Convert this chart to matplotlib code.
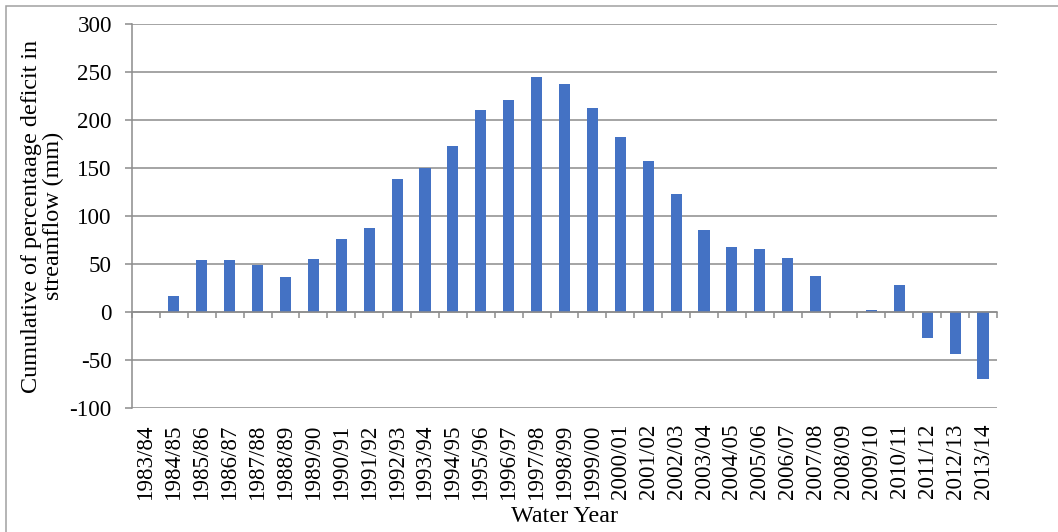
import matplotlib
matplotlib.use("Agg")
import matplotlib.pyplot as plt
from matplotlib.patches import Rectangle

plt.rcParams['font.family'] = ['Liberation Serif', 'DejaVu Serif']

water_years = ["1983/84", "1984/85", "1985/86", "1986/87", "1987/88", "1988/89",
               "1989/90", "1990/91", "1991/92", "1992/93", "1993/94", "1994/95",
               "1995/96", "1996/97", "1997/98", "1998/99", "1999/00", "2000/01",
               "2001/02", "2002/03", "2003/04", "2004/05", "2005/06", "2006/07",
               "2007/08", "2008/09", "2009/10", "2010/11", "2011/12", "2012/13",
               "2013/14"]
cum_deficit = [0, 17, 54, 54, 49, 36, 55, 76, 88, 139, 150, 173, 210, 221, 245,
               238, 213, 182, 157, 123, 85, 68, 66, 56, 38, 0, 2, 28, -27, -44, -70]
y_ticks = [-100, -50, 0, 50, 100, 150, 200, 250, 300]

W, H = 1058, 532
fig = plt.figure(figsize=(W / 100, H / 100), dpi=100)
fig.patch.set_facecolor('white')
ax = fig.add_axes([132 / W, (H - 408) / H, (997 - 132) / W, (408 - 24) / H])

grey = '#8c8c8c'
lw = 1.1
fs = 16.6
fs_lab = 17.4
x = list(range(len(water_years)))
ax.bar(x, cum_deficit, width=0.4, color='#4472C4', zorder=3)

ax.set_xlim(-0.5, len(water_years) - 0.5)
ax.set_ylim(-100, 300)
ax.set_yticks(y_ticks)
ax.set_yticklabels([str(v) for v in y_ticks], fontsize=fs)
ax.yaxis.grid(True, color=grey, linewidth=lw, zorder=0)
ax.set_axisbelow(True)

for s in ['top', 'right']:
    ax.spines[s].set_visible(False)
ax.spines['left'].set_color(grey)
ax.spines['left'].set_linewidth(lw)
ax.spines['bottom'].set_position(('data', 0))
ax.spines['bottom'].set_color(grey)
ax.spines['bottom'].set_linewidth(lw)
ax.spines['bottom'].set_zorder(4)

ax.tick_params(axis='y', length=5, width=lw, color=grey, pad=9.5)
ax.set_xticks([i - 0.5 for i in range(len(water_years) + 1)])
ax.set_xticklabels([])
ax.tick_params(axis='x', length=4.3, width=lw, color=grey, direction='out')

sec = ax.secondary_xaxis(0)
sec.set_xticks(x)
sec.set_xticklabels(water_years, rotation=90, fontsize=fs)
sec.tick_params(length=0, pad=11.5)
sec.spines['bottom'].set_visible(False)

fig.text(564.5 / W, 1 - 517 / H, "Water Year", fontsize=fs_lab,
         ha='center', va='center')

ax.set_ylabel("Cumulative of percentaage deficit in\nstreamflow (mm)", fontsize=fs_lab,
              linespacing=1.0, va='center')
ax.yaxis.set_label_coords((42.5 - 132) / 865, 0.5)

fig.patches.append(Rectangle((6 / W, -0.2), 2.0, (H - 6) / H + 0.2,
                             transform=fig.transFigure, fill=False,
                             edgecolor='#a0a0a0', linewidth=1.1))

fig.savefig("out.png", dpi=100)
